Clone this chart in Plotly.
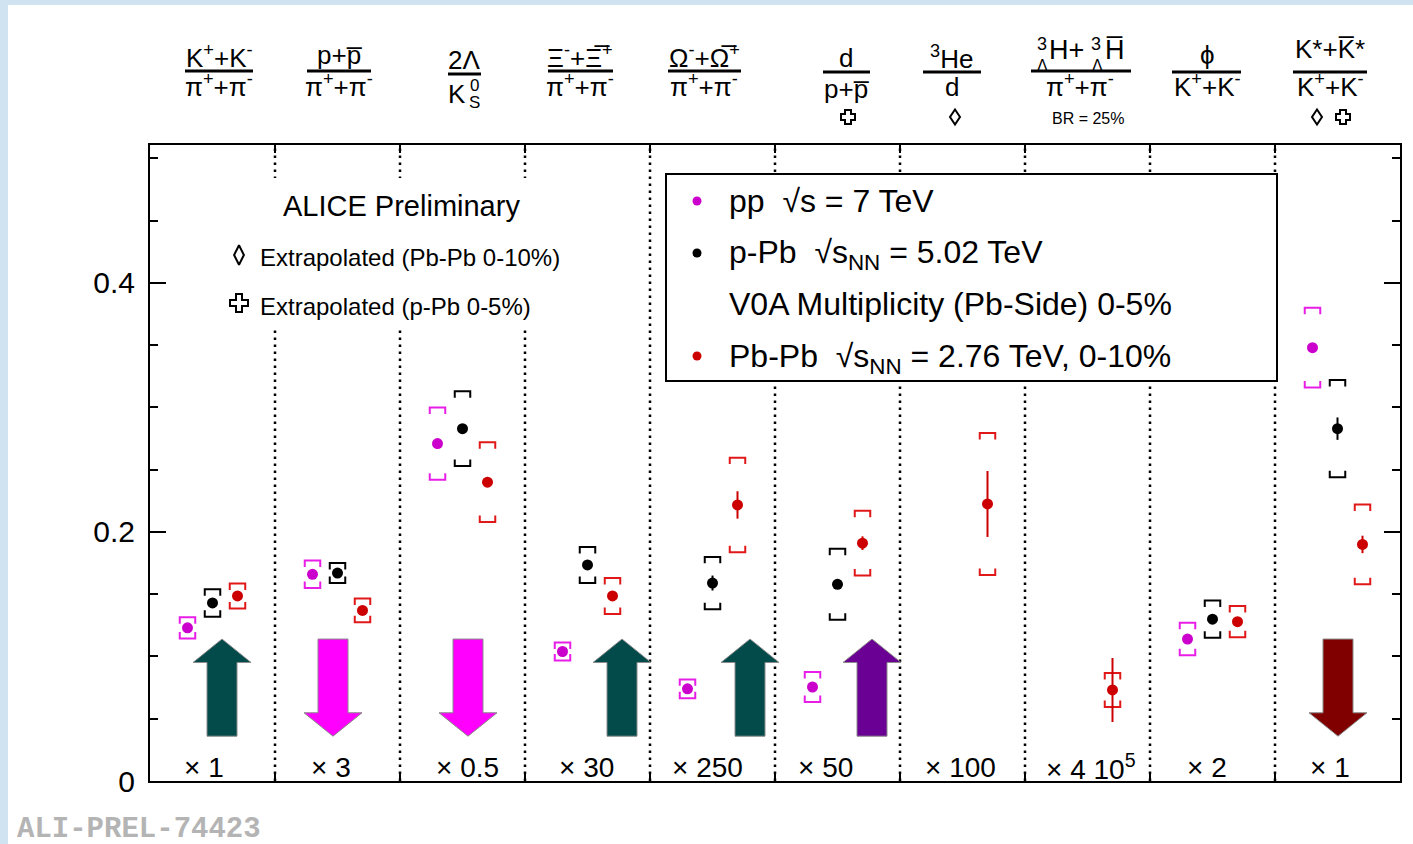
import plotly.graph_objects as go

# ---------------- data ----------------
ratios = ["K/pi", "p/pi", "2Lambda/K0S", "Xi/pi", "Omega/pi",
          "d/p", "3He/d", "hypertriton/pi", "phi/K", "K*/K"]
scale_labels = ["× 1", "× 3", "× 0.5", "× 30", "× 250", "× 50",
                "× 100", "× 4 10<sup>5</sup>", "× 2", "× 1"]

pp_val = [0.123, 0.166, 0.271, 0.104, 0.074, 0.0755, None, None, 0.114, 0.348]
pp_syst = [0.0085, 0.011, 0.029, 0.0072, 0.0076, 0.012, None, None, 0.013, 0.032]
pp_stat = [0, 0, 0, 0, 0, 0, None, None, 0, 0]

ppb_val = [0.143, 0.167, 0.283, 0.1735, 0.159, 0.158, None, None, 0.130, 0.283]
ppb_syst = [0.011, 0.008, 0.030, 0.0145, 0.021, 0.0285, None, None, 0.015, 0.039]
ppb_stat = [0, 0, 0, 0, 0.006, 0.003, None, None, 0, 0.009]

pbpb_val = [0.1486, 0.137, 0.240, 0.1486, 0.2217, 0.191, 0.2225, 0.0731, 0.128, 0.190]
pbpb_syst = [0.010, 0.0095, 0.032, 0.0145, 0.038, 0.026, 0.057, 0.0137, 0.0125, 0.032]
pbpb_stat = [0, 0, 0, 0, 0.011, 0.0055, 0.0265, 0.0257, 0, 0.007]

# trend of each ratio going from small to large systems
arrow_dir = ["up", "down", "down", "up", "up", "up", None, None, None, "down"]
arrow_color = ["#034a4a", "#ff00ff", "#ff00ff", "#034a4a", "#034a4a",
               "#6a0094", None, None, None, "#800000"]

# ---------------- geometry / style ----------------
W, H = 1413, 844
ML, MR, MT, MB = 150, 13, 145, 63
PW, PH = W - ML - MR, H - MT - MB
YMAX = 0.5108
FONT = "Liberation Sans"


def pxx(p):  # pixel -> paper x
    return (p - ML) / PW


def pxy(p):  # pixel -> paper y
    return (H - MB - p) / PH


def dx(p):  # pixel -> data x (bins)
    return (p - ML) / PW * 10


def dy(p):  # pixel -> data y
    return (H - MB - p) / PH * YMAX


arrow_pos = [0.576, 1.464, 2.544, 3.776, 4.8, 5.776, None, None, None, 9.504]
scale_label_px = [204, 331, 467, 586, 707, 826, 960, 1091, 1207, 1330]

series = [
    (pp_val, pp_syst, pp_stat, 0.3, "#cc00cc", "#e81ee8"),
    (ppb_val, ppb_syst, ppb_stat, 0.5, "#000000", "#000000"),
    (pbpb_val, pbpb_syst, pbpb_stat, 0.7, "#cc0000", "#e01818"),
]

fig = go.Figure()

# arrows
ARR_Y0, ARR_Y1, HEAD_L, HEAD_W, SHAFT_W = 0.036, 0.114, 0.0188, 0.232, 0.12
for xc, d, col in zip(arrow_pos, arrow_dir, arrow_color):
    if d is None:
        continue
    xs = [xc - SHAFT_W, xc - SHAFT_W, xc - HEAD_W, xc, xc + HEAD_W, xc + SHAFT_W, xc + SHAFT_W, xc - SHAFT_W]
    if d == "up":
        ys = [ARR_Y0, ARR_Y1 - HEAD_L, ARR_Y1 - HEAD_L, ARR_Y1, ARR_Y1 - HEAD_L, ARR_Y1 - HEAD_L, ARR_Y0, ARR_Y0]
    else:
        ys = [ARR_Y1, ARR_Y0 + HEAD_L, ARR_Y0 + HEAD_L, ARR_Y0, ARR_Y0 + HEAD_L, ARR_Y0 + HEAD_L, ARR_Y1, ARR_Y1]
    fig.add_trace(go.Scatter(x=xs, y=ys, mode="lines", fill="toself", fillcolor=col,
                             line=dict(color="#8a8a8a", width=1), hoverinfo="skip"))

# systematic brackets, statistical bars and points
BR_W, BR_H = 0.062, 0.0052
for vals, syst, stat, off, mcol, bcol in series:
    bx, by = [], []
    px_, py_, pe = [], [], []
    for i, (v, s, e) in enumerate(zip(vals, syst, stat)):
        if v is None:
            continue
        x = i + off
        top, bot = v + s, v - s
        bx += [x - BR_W, x - BR_W, x + BR_W, x + BR_W, None,
               x - BR_W, x - BR_W, x + BR_W, x + BR_W, None]
        by += [top - BR_H, top, top, top - BR_H, None,
               bot + BR_H, bot, bot, bot + BR_H, None]
        px_.append(x)
        py_.append(v)
        pe.append(e)
    fig.add_trace(go.Scatter(x=bx, y=by, mode="lines", line=dict(color=bcol, width=2),
                             hoverinfo="skip"))
    fig.add_trace(go.Scatter(x=px_, y=py_, mode="markers",
                             marker=dict(color=mcol, size=11),
                             error_y=dict(type="data", array=pe, width=0, thickness=2, color=mcol)))

# legend markers inside the box
fig.add_trace(go.Scatter(x=[dx(697)] * 3, y=[dy(201), dy(253), dy(356)], mode="markers",
                         marker=dict(color=["#cc00cc", "#000000", "#cc0000"], size=9),
                         hoverinfo="skip"))

# extrapolation symbols next to the inset text
fig.add_trace(go.Scatter(x=[dx(239)], y=[dy(255)], mode="markers",
                         marker=dict(symbol="diamond-tall-open", size=14, color="black",
                                     line=dict(width=2, color="black")),
                         hoverinfo="skip"))
fig.add_trace(go.Scatter(x=[dx(239)], y=[dy(303)], mode="markers",
                         marker=dict(symbol="cross-open", size=15, color="black",
                                     line=dict(width=2, color="black")),
                         hoverinfo="skip"))

shapes = []
# light frame around the page
shapes.append(dict(type="rect", xref="paper", yref="paper", x0=pxx(0), x1=pxx(8),
                   y0=pxy(H), y1=pxy(0), fillcolor="#cfe3f1", line=dict(width=0), layer="below"))
shapes.append(dict(type="rect", xref="paper", yref="paper", x0=pxx(0), x1=pxx(W),
                   y0=pxy(5), y1=pxy(0), fillcolor="#cfe3f1", line=dict(width=0), layer="below"))
# bin dividers
for i in range(1, 10):
    shapes.append(dict(type="line", xref="x", yref="paper", x0=i, x1=i, y0=0, y1=1,
                       line=dict(color="black", width=2.5, dash="2.5px,4.5px"), layer="below"))
# blank pave behind the inset text
shapes.append(dict(type="rect", xref="x", yref="y", x0=dx(222), x1=dx(572),
                   y0=dy(328), y1=dy(178), fillcolor="white", line=dict(width=0), layer="below"))
# legend box
shapes.append(dict(type="rect", xref="x", yref="y", x0=dx(666), x1=dx(1277),
                   y0=dy(381), y1=dy(174), fillcolor="white",
                   line=dict(color="black", width=2), layer="below"))


def sym_path(pts, cx, cy):
    """closed SVG path from pixel offsets around (cx, cy), in paper coordinates"""
    parts = []
    for k, (ox, oy) in enumerate(pts):
        parts.append(("M" if k == 0 else "L") + f"{pxx(cx + ox):.5f},{pxy(cy + oy):.5f}")
    return " ".join(parts) + " Z"


DIAMOND = [(0, -7.5), (5, 0), (0, 7.5), (-5, 0)]
CROSS = [(-3, -7), (3, -7), (3, -3), (7, -3), (7, 3), (3, 3), (3, 7), (-3, 7),
         (-3, 3), (-7, 3), (-7, -3), (-3, -3)]
for cx, cy in [(955, 117), (1317, 117)]:
    shapes.append(dict(type="path", xref="paper", yref="paper", path=sym_path(DIAMOND, cx, cy),
                       line=dict(color="black", width=2)))
for cx, cy in [(848, 117), (1343, 117)]:
    shapes.append(dict(type="path", xref="paper", yref="paper", path=sym_path(CROSS, cx, cy),
                       line=dict(color="black", width=2)))

ann = []


def text(t, x, y, size, anchor="center", color="black", family=FONT):
    ann.append(dict(text=t, x=pxx(x), y=pxy(y), xref="paper", yref="paper",
                    xanchor=anchor, yanchor="middle", showarrow=False,
                    font=dict(size=size, color=color, family=family)))


def bar(x0, x1, y):
    shapes.append(dict(type="line", xref="paper", yref="paper", x0=pxx(x0), x1=pxx(x1),
                       y0=pxy(y), y1=pxy(y), line=dict(color="black", width=3)))


HS = 26
PI = "π<sup>+</sup>+π<sup>-</sup>"
KK = "K<sup>+</sup>+K<sup>-</sup>"
# K/pi
text(KK, 219, 56, HS); bar(185, 253, 71); text(PI, 219, 85, HS)
# p/pi
text("p+p\u0305", 339, 55, HS); bar(307, 371, 71); text(PI, 339, 85, HS)
# 2Lambda/K0S
text("2Λ", 464, 60, HS); bar(448, 481, 74)
text("K", 457, 94, HS); text("0", 474, 85, 17); text("S", 474, 103, 17)
# Xi/pi
text("Ξ<sup>-</sup>+Ξ\u0305<sup>+</sup>", 580, 56, HS); bar(548, 613, 71); text(PI, 580, 85, HS)
# Omega/pi
text("Ω<sup>-</sup>+Ω\u0305<sup>+</sup>", 704, 56, HS); bar(668, 741, 71); text(PI, 704, 85, HS)
# d/p
text("d", 846, 58, HS); bar(823, 870, 72); text("p+p\u0305", 846, 89, HS)
# 3He/d
text("<sup>3</sup>He", 952, 57, HS); bar(923, 981, 72); text("d", 952, 87, HS)
# hypertriton/pi
text("3", 1042, 44, 18); text("Λ", 1042, 65, 16); text("H+", 1066, 50, 27)
text("3", 1096, 44, 18); text("Λ", 1097, 65, 16); text("H\u0305", 1115, 50, 27)
bar(1031, 1131, 71); text(PI, 1080, 85, HS); text("BR = 25%", 1088, 119, 16)
# phi/K
text("\u03d5", 1207, 55, HS); bar(1172, 1241, 72); text(KK, 1207, 86, HS)
# K*/K
text("K*+K\u0305*", 1330, 49, HS); bar(1293, 1367, 72); text(KK, 1330, 86, HS)

# inset texts
text("ALICE Preliminary", 401, 206, 29)
text("Extrapolated (Pb-Pb 0-10%)", 258, 257, 24, anchor="left")
text("Extrapolated (p-Pb 0-5%)", 258, 306, 24, anchor="left")

# legend entries
LS = 32
text("pp  √s = 7 TeV", 727, 201, LS, anchor="left")
text("p-Pb  √s<sub>NN</sub> = 5.02 TeV", 727, 255, LS, anchor="left")
text("V0A Multiplicity (Pb-Side) 0-5%", 727, 304, LS, anchor="left")
text("Pb-Pb  √s<sub>NN</sub> = 2.76 TeV, 0-10%", 727, 358, LS, anchor="left")

# scale factors
for lab, p in zip(scale_labels, scale_label_px):
    text(lab, p, 767, 28)

# plot id
text("<b>ALI-PREL-74423</b>", 15, 829, 29, anchor="left", color="#b4b4b4",
     family="Liberation Mono")

fig.update_layout(
    width=W, height=H,
    margin=dict(l=ML, r=MR, t=MT, b=MB, autoexpand=False),
    paper_bgcolor="white", plot_bgcolor="white",
    showlegend=False,
    font=dict(family=FONT, color="black"),
    shapes=shapes, annotations=ann,
    xaxis=dict(range=[0, 10], tickvals=list(range(1, 10)), showticklabels=False,
               ticks="inside", ticklen=8, tickwidth=1.5, tickcolor="black",
               showline=True, linecolor="black", linewidth=2, mirror="ticks",
               showgrid=False, zeroline=False, automargin=False, fixedrange=True),
    yaxis=dict(range=[0, YMAX], tickvals=[0, 0.2, 0.4], ticktext=["0", "0.2", "0.4"],
               ticks="inside", ticklen=16, tickwidth=1.5, tickcolor="black",
               minor=dict(dtick=0.05, tick0=0, ticks="inside", ticklen=8,
                          tickwidth=1.5, tickcolor="black"),
               tickfont=dict(size=30, family=FONT), ticklabelstandoff=7,
               showline=True, linecolor="black", linewidth=2, mirror="ticks",
               showgrid=False, zeroline=False, automargin=False, fixedrange=True),
)

fig.write_html("out.html")
